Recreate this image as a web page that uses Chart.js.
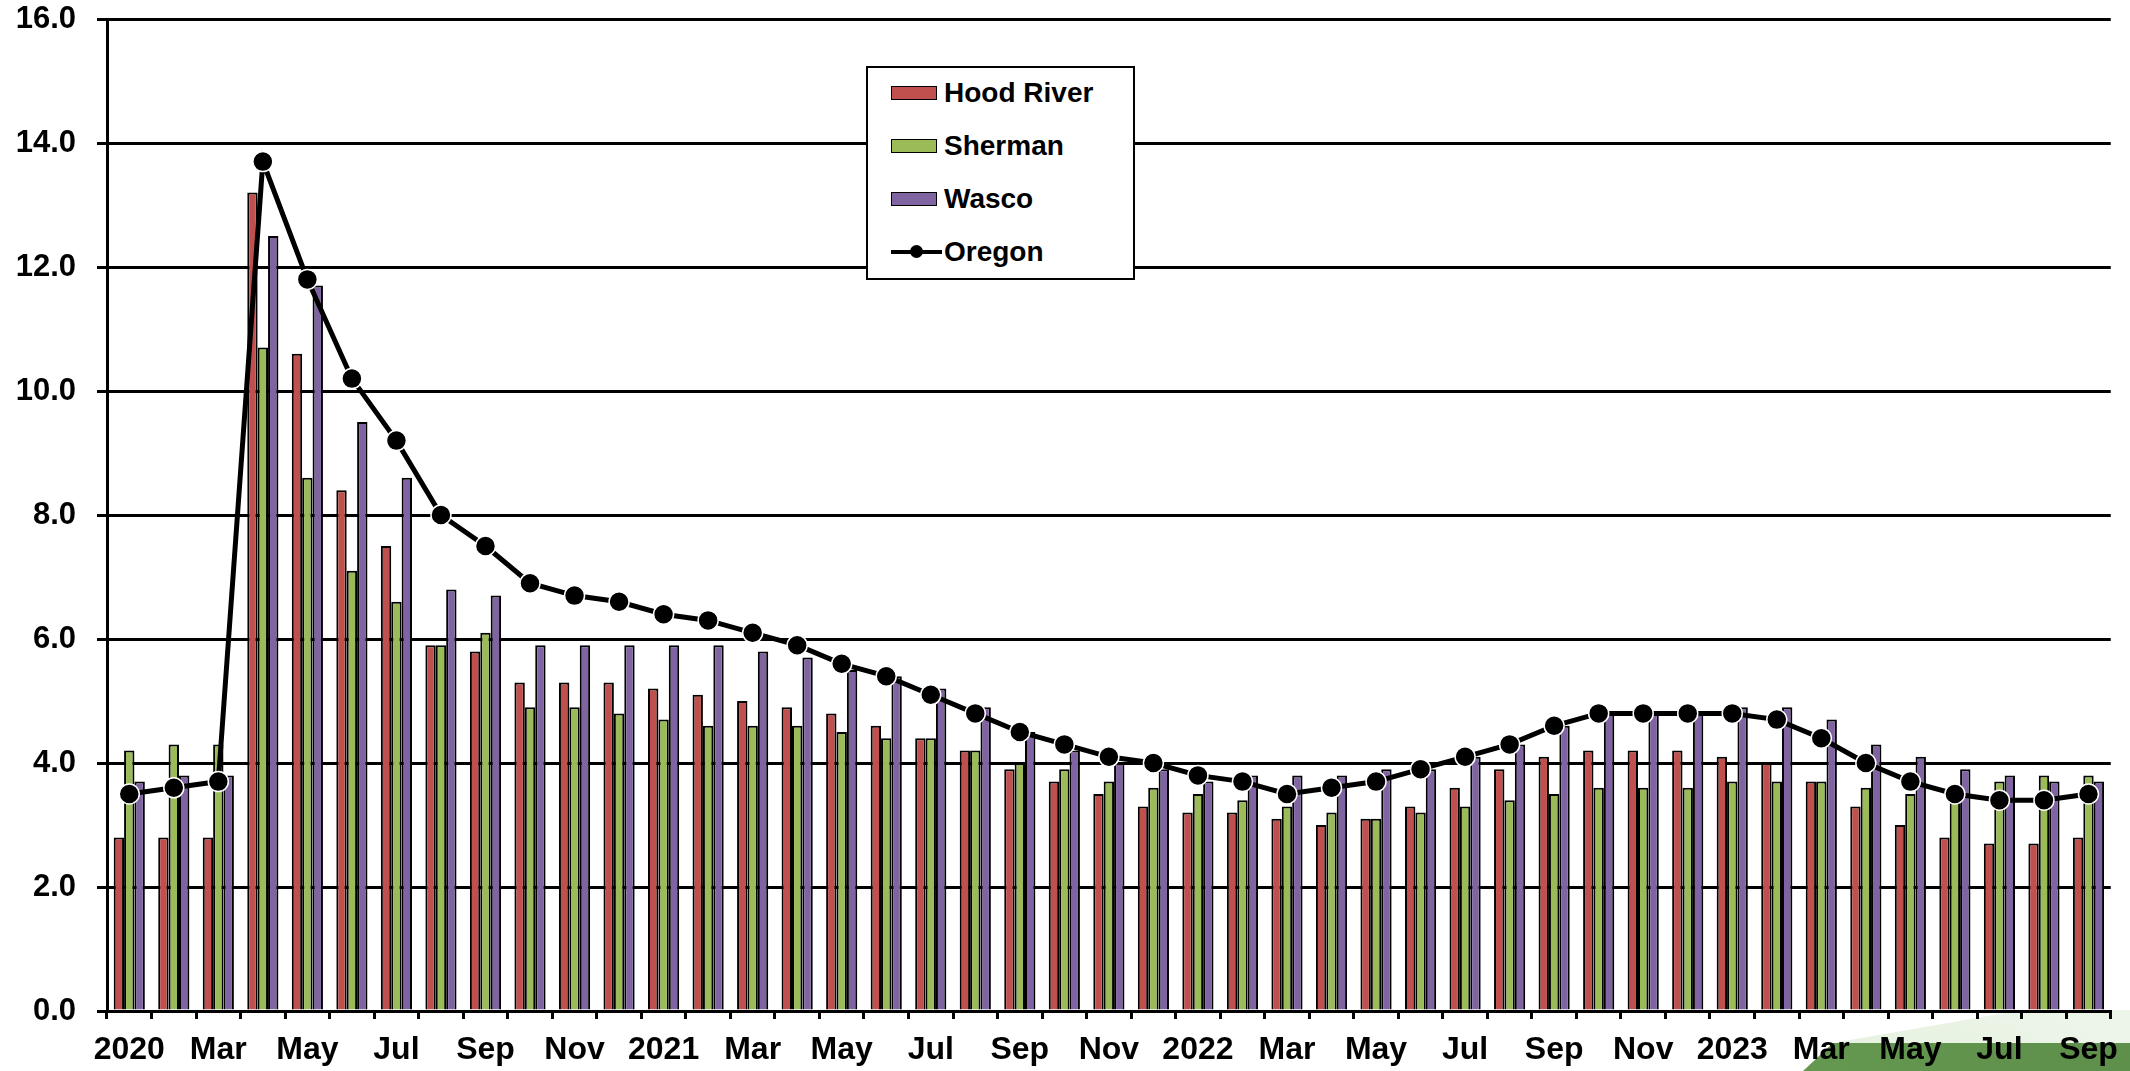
<!DOCTYPE html>
<html>
<head>
<meta charset="utf-8">
<title>Unemployment rate: Hood River, Sherman, Wasco and Oregon</title>
<script src="https://cdn.jsdelivr.net/npm/chart.js@4.4.1/dist/chart.umd.min.js"></script>
<style>
  html, body { margin: 0; padding: 0; background: #fff; }
  body { width: 2130px; height: 1071px; position: relative; overflow: hidden; font-family: "Liberation Sans", Arial, sans-serif; }
  .deco { position: absolute; left: 0; top: 0; width: 2130px; height: 1071px; z-index: 0; }
  #decoLight {
    background: linear-gradient(to top right, #b7d8aa 0%, #e3f0dd 40%, #ffffff 75%);
    clip-path: polygon(1833px 1043px, 2022px 1010px, 2130px 1010px, 2130px 1043px);
  }
  #decoDark {
    background: linear-gradient(to right, #7db866 0%, #6fa659 60%, #5e8f4b 100%);
    clip-path: polygon(1803px 1071px, 1833px 1043px, 2130px 1043px, 2130px 1071px);
  }
  #chart { position: absolute; left: 0; top: 0; z-index: 1; }
  #legend {
    position: absolute; left: 866px; top: 66px; width: 269px; height: 214px;
    box-sizing: border-box; border: 2.5px solid #000; background: #fff; z-index: 2;
  }
  .item { position: absolute; left: 23px; height: 34px; display: flex; align-items: center;
          font-weight: bold; font-size: 28px; color: #000; }
  .swatch { width: 46px; height: 14px; box-sizing: border-box; border: 1.5px solid #000; margin-right: 7px; }
  .lineMark { position: relative; width: 51px; height: 14px; margin-right: 2px; }
  .lineMark::before { content: ""; position: absolute; left: 0; right: 0; top: 5px; height: 4px; background: #000; }
  .lineMark::after { content: ""; position: absolute; left: 19px; top: 0; width: 13px; height: 13px; border-radius: 50%; background: #000; }
</style>
</head>
<body>
<div class="deco" id="decoLight"></div>
<div class="deco" id="decoDark"></div>
<canvas id="chart" width="2130" height="1071"></canvas>
<div id="legend"></div>
<script>
// month labels, Jan 2020 to Sep 2023 (every other one is shown on the axis)
const monthLabels = [
  '2020','Feb','Mar','Apr','May','Jun','Jul','Aug','Sep','Oct','Nov','Dec',
  '2021','Feb','Mar','Apr','May','Jun','Jul','Aug','Sep','Oct','Nov','Dec',
  '2022','Feb','Mar','Apr','May','Jun','Jul','Aug','Sep','Oct','Nov','Dec',
  '2023','Feb','Mar','Apr','May','Jun','Jul','Aug','Sep'
];

const hoodRiver = [
  2.8, 2.8, 2.8, 13.2, 10.6, 8.4, 7.5, 5.9, 5.8, 5.3, 5.3, 5.3,
  5.2, 5.1, 5.0, 4.9, 4.8, 4.6, 4.4, 4.2, 3.9, 3.7, 3.5, 3.3,
  3.2, 3.2, 3.1, 3.0, 3.1, 3.3, 3.6, 3.9, 4.1, 4.2, 4.2, 4.2,
  4.1, 4.0, 3.7, 3.3, 3.0, 2.8, 2.7, 2.7, 2.8
];
const sherman = [
  4.2, 4.3, 4.3, 10.7, 8.6, 7.1, 6.6, 5.9, 6.1, 4.9, 4.9, 4.8,
  4.7, 4.6, 4.6, 4.6, 4.5, 4.4, 4.4, 4.2, 4.0, 3.9, 3.7, 3.6,
  3.5, 3.4, 3.3, 3.2, 3.1, 3.2, 3.3, 3.4, 3.5, 3.6, 3.6, 3.6,
  3.7, 3.7, 3.7, 3.6, 3.5, 3.5, 3.7, 3.8, 3.8
];
const wasco = [
  3.7, 3.8, 3.8, 12.5, 11.7, 9.5, 8.6, 6.8, 6.7, 5.9, 5.9, 5.9,
  5.9, 5.9, 5.8, 5.7, 5.5, 5.4, 5.2, 4.9, 4.5, 4.2, 4.0, 3.9,
  3.7, 3.8, 3.8, 3.8, 3.9, 3.9, 4.1, 4.3, 4.6, 4.8, 4.8, 4.8,
  4.9, 4.9, 4.7, 4.3, 4.1, 3.9, 3.8, 3.7, 3.7
];
const oregon = [
  3.5, 3.6, 3.7, 13.7, 11.8, 10.2, 9.2, 8.0, 7.5, 6.9, 6.7, 6.6,
  6.4, 6.3, 6.1, 5.9, 5.6, 5.4, 5.1, 4.8, 4.5, 4.3, 4.1, 4.0,
  3.8, 3.7, 3.5, 3.6, 3.7, 3.9, 4.1, 4.3, 4.6, 4.8, 4.8, 4.8,
  4.8, 4.7, 4.4, 4.0, 3.7, 3.5, 3.4, 3.4, 3.5
];

const barNames = ['Hood River', 'Sherman', 'Wasco'];
const barColors = ['#C0504D', '#9BBB59', '#8064A2'];
const lineName = 'Oregon';

const FONT = '"Liberation Sans", Arial, sans-serif';
const PLOT_LEFT = 107;
const PLOT_TOP = 19;
const PLOT_BOTTOM = 1011;

function barSet(label, data, color) {
  return {
    type: 'bar',
    label: label,
    data: data,
    backgroundColor: color,
    borderColor: '#000',
    borderWidth: 2,
    borderSkipped: 'bottom',
    categoryPercentage: 0.7,
    barPercentage: 1.0,
    order: 1
  };
}

const datasets = [
  barSet(barNames[0], hoodRiver, barColors[0]),
  barSet(barNames[1], sherman, barColors[1]),
  barSet(barNames[2], wasco, barColors[2]),
  {
    type: 'line',
    label: lineName,
    data: oregon,
    borderColor: '#000',
    borderWidth: 5,
    tension: 0,
    pointRadius: 10,
    pointBackgroundColor: '#000',
    pointBorderColor: '#fff',
    pointBorderWidth: 1.5,
    order: 0
  }
];

new Chart(document.getElementById('chart'), {
  data: { labels: monthLabels, datasets: datasets },
  options: {
    responsive: false,
    animation: false,
    layout: { padding: { left: 0, right: 16, top: PLOT_TOP, bottom: 0 } },
    plugins: { legend: { display: false }, tooltip: { enabled: false } },
    scales: {
      x: {
        offset: true,
        grid: { offset: true, drawOnChartArea: false, color: '#000', lineWidth: 3, tickLength: 8 },
        border: { color: '#000', width: 3 },
        ticks: {
          autoSkip: false, maxRotation: 0, minRotation: 0, padding: 12,
          color: '#000', font: { family: FONT, size: 32, weight: 'bold' },
          callback: (v, i) => (i % 2 === 0 ? monthLabels[i] : '')
        },
        afterFit: (s) => { s.height = 1071 - PLOT_BOTTOM; }
      },
      y: {
        min: 0, max: 16,
        grid: { color: '#000', lineWidth: 3, tickLength: 10 },
        border: { color: '#000', width: 3 },
        ticks: {
          stepSize: 2, padding: 21, color: '#000',
          font: { family: FONT, size: 31, weight: 'bold' },
          callback: (v) => v.toFixed(1)
        },
        afterFit: (s) => { s.width = PLOT_LEFT; s.paddingTop = 0; s.paddingBottom = 0; }
      }
    }
  }
});

// legend box drawn as html on top of the plot
const legend = document.getElementById('legend');
const rowTops = [8, 61, 114, 167];
barNames.forEach((name, i) => {
  const row = document.createElement('div');
  row.className = 'item';
  row.style.top = rowTops[i] + 'px';
  row.innerHTML = '<span class="swatch" style="background:' + barColors[i] + '"></span>' + name;
  legend.appendChild(row);
});
const lineRow = document.createElement('div');
lineRow.className = 'item';
lineRow.style.top = rowTops[3] + 'px';
lineRow.innerHTML = '<span class="lineMark"></span>' + lineName;
legend.appendChild(lineRow);
</script>
</body>
</html>
